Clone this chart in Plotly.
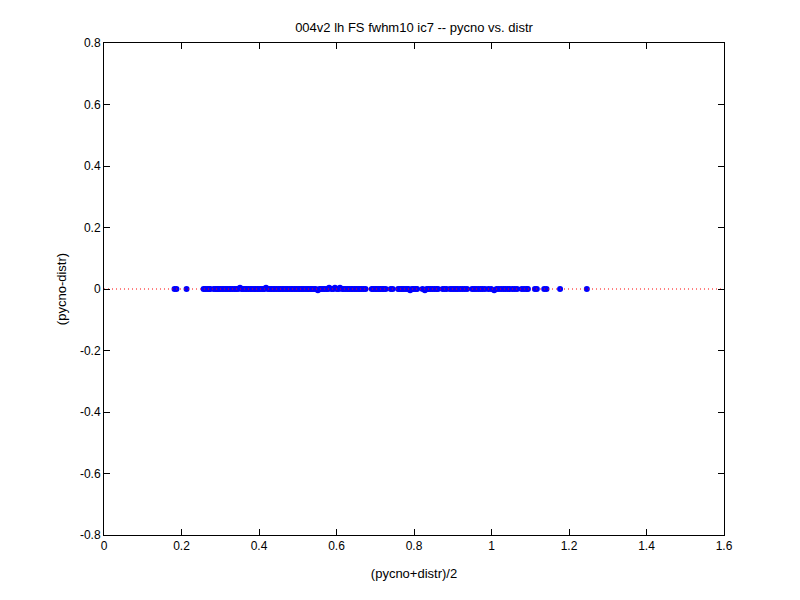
import plotly.graph_objects as go

title_text = "004v2 lh FS fwhm10 ic7 -- pycno vs. distr"
x_label = "(pycno+distr)/2"
y_label = "(pycno-distr)"

x_ticks = [0, 0.2, 0.4, 0.6, 0.8, 1.0, 1.2, 1.4, 1.6]
x_tick_text = ["0", "0.2", "0.4", "0.6", "0.8", "1", "1.2", "1.4", "1.6"]
y_ticks = [-0.8, -0.6, -0.4, -0.2, 0, 0.2, 0.4, 0.6, 0.8]
y_tick_text = ["-0.8", "-0.6", "-0.4", "-0.2", "0", "0.2", "0.4", "0.6", "0.8"]

# mean of the two measures (x) for each vertex
mean_vals = [
    0.182, 0.187, 0.213, 0.257, 0.261, 0.266, 0.271, 0.274, 0.283, 0.288,
    0.292, 0.296, 0.300, 0.305, 0.309, 0.314, 0.318, 0.323, 0.327, 0.332,
    0.337, 0.341, 0.346, 0.351, 0.355, 0.359, 0.364, 0.368, 0.373, 0.378,
    0.382, 0.387, 0.391, 0.396, 0.400, 0.405, 0.410, 0.414, 0.418, 0.423,
    0.428, 0.432, 0.437, 0.441, 0.446, 0.451, 0.455, 0.460, 0.464, 0.469,
    0.473, 0.478, 0.483, 0.487, 0.492, 0.496, 0.501, 0.505, 0.510, 0.514,
    0.519, 0.524, 0.528, 0.533, 0.537, 0.542, 0.546, 0.552, 0.556, 0.560,
    0.565, 0.569, 0.574, 0.578, 0.581, 0.587, 0.592, 0.596, 0.601, 0.606,
    0.609, 0.615, 0.619, 0.624, 0.629, 0.633, 0.638, 0.642, 0.647, 0.651,
    0.656, 0.660, 0.665, 0.670, 0.675, 0.691, 0.695, 0.700, 0.704, 0.709,
    0.713, 0.718, 0.722, 0.727, 0.740, 0.745, 0.759, 0.763, 0.768, 0.772,
    0.777, 0.782, 0.786, 0.790, 0.795, 0.799, 0.804, 0.808, 0.822, 0.828,
    0.833, 0.838, 0.843, 0.848, 0.853, 0.858, 0.862, 0.874, 0.879, 0.884,
    0.893, 0.898, 0.903, 0.908, 0.913, 0.919, 0.925, 0.931, 0.937, 0.950,
    0.955, 0.960, 0.966, 0.972, 0.977, 0.983, 0.992, 0.999, 1.007, 1.013,
    1.019, 1.025, 1.031, 1.036, 1.042, 1.047, 1.054, 1.060, 1.066, 1.078,
    1.084, 1.090, 1.094, 1.112, 1.117, 1.136, 1.142, 1.177, 1.246,
]

# difference of the two measures (y) for each vertex
diff_vals = [
    0, 0, 0, 0, 0, 0, 0, 0, 0, 0,
    0, 0, 0, 0, 0, 0, 0, 0, 0, 0,
    0, 0, 0, 0.004, 0, 0, 0, 0, 0, 0,
    0, 0, 0, 0, 0, 0, 0, 0, 0.004, 0,
    0, 0, 0, 0, 0, 0, 0, 0, 0, 0,
    0, 0, 0, 0, 0, 0, 0, 0, 0, 0,
    0, 0, 0, 0, 0, 0, 0, -0.004, 0, 0,
    0, 0, 0, 0, 0.004, 0, 0, 0.004, 0, 0,
    0.004, 0, 0, 0, 0, 0, 0, 0, 0, 0,
    0, 0, 0, 0, 0, 0, 0, 0, 0, 0,
    0, 0, 0, 0, 0, 0, 0, 0, 0, 0,
    0, 0, 0, -0.004, 0, 0, 0, 0, 0, -0.004,
    0, 0, 0, 0, 0, 0, 0, 0, 0, 0,
    0, 0, 0, 0, 0, 0, 0, 0, 0, 0,
    0, 0, 0, 0, 0, 0, 0, 0, -0.004, 0,
    0, 0, 0, 0, 0, 0, 0, 0, 0, 0,
    0, 0, 0, 0, 0, 0, 0, 0, 0,
]

ref_line_x = [0, 1.6]
ref_line_y = [0, 0]

font_family = "Liberation Sans, Arial, sans-serif"

fig = go.Figure()
fig.add_trace(go.Scatter(
    x=mean_vals, y=diff_vals, mode="markers",
    marker=dict(symbol="circle", size=6, color="#0000ff", line=dict(width=0)),
    showlegend=False, hoverinfo="x+y",
))
fig.add_trace(go.Scatter(
    x=ref_line_x, y=ref_line_y, mode="lines",
    line=dict(color="#ff0000", width=1, dash="1px,3px"),
    showlegend=False, hoverinfo="skip",
))

axis_common = dict(
    showgrid=False, zeroline=False, showline=True, linecolor="black",
    linewidth=1, mirror="ticks", ticks="inside", ticklen=6, tickcolor="black",
    tickfont=dict(family=font_family, size=12, color="black"),
    automargin=False,
)

fig.update_layout(
    width=800, height=600,
    paper_bgcolor="white", plot_bgcolor="white",
    margin=dict(l=96, r=84, t=35, b=73),
    title=dict(text=title_text, x=0.5, xanchor="center", y=0.968, yanchor="middle",
               xref="paper",
               font=dict(family=font_family, size=13, color="black")),
    xaxis=dict(range=[0, 1.6], tickvals=x_ticks, ticktext=x_tick_text,
               title=dict(text=x_label, standoff=16,
                          font=dict(family=font_family, size=13, color="black")),
               **axis_common),
    yaxis=dict(range=[-0.8, 0.8], tickvals=y_ticks, ticktext=y_tick_text,
               title=dict(text=y_label, standoff=10,
                          font=dict(family=font_family, size=13, color="black")),
               **axis_common),
)

fig.write_html("out.html")
